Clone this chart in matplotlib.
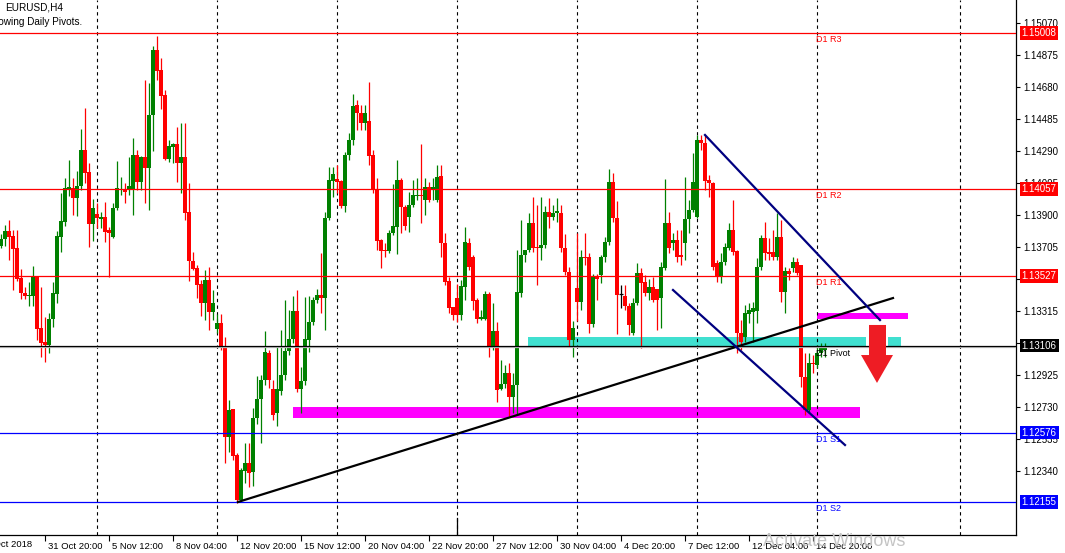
#!/usr/bin/env python

# EURUSD H4 chart with daily pivots, trendlines and zones
# Dependencies: numpy, matplotlib

import numpy as np
import matplotlib
matplotlib.use('Agg')
import matplotlib.pyplot as plt
import matplotlib.transforms as mtrans
from matplotlib.patches import Rectangle, Polygon

plt.rcParams['font.family'] = ['Liberation Sans', 'DejaVu Sans']

# Candles (one H4 bar per index, oldest first)
opens = [
    1.13711, 1.13754, 1.13803, 1.13772, 1.13699, 1.13517, 1.13426, 1.13407, 1.13407, 1.13523,
    1.13212, 1.13127, 1.13109, 1.13267, 1.13420, 1.13766, 1.13858, 1.14059, 1.14065, 1.14004,
    1.14077, 1.14297, 1.14163, 1.13846, 1.13907, 1.13876, 1.13888, 1.13809, 1.13766, 1.13943,
    1.14053, 1.14053, 1.14053, 1.14053, 1.14267, 1.14102, 1.14254, 1.14187, 1.14510, 1.14906,
    1.14784, 1.14632, 1.14242, 1.14314, 1.14333, 1.14218, 1.14254, 1.13919, 1.13621, 1.13578,
    1.13481, 1.13365, 1.13505, 1.13310, 1.13206, 1.13243, 1.13090, 1.12548, 1.12719, 1.12440,
    1.12165, 1.12342, 1.12391, 1.12336, 1.12664, 1.12780, 1.12896, 1.13061, 1.12841, 1.12695,
    1.12829, 1.12927, 1.13073, 1.13145, 1.13316, 1.12841, 1.12890, 1.13139, 1.13249, 1.13383,
    1.13414, 1.13395, 1.13882, 1.14108, 1.14120, 1.14108, 1.13955, 1.14267, 1.14357, 1.14571,
    1.14522, 1.14461, 1.14473, 1.14267, 1.14059, 1.13748, 1.13688, 1.13682, 1.13791, 1.13827,
    1.14114, 1.13949, 1.13888, 1.13962, 1.14016, 1.14023, 1.13992, 1.14071, 1.14053, 1.13992,
    1.14138, 1.13730, 1.13499, 1.13340, 1.13395, 1.13292, 1.13462, 1.13730, 1.13645, 1.13383,
    1.13267, 1.13267, 1.13420, 1.13090, 1.13194, 1.12841, 1.12872, 1.12939, 1.12792, 1.12866,
    1.13426, 1.13658, 1.13688, 1.13852, 1.13705, 1.13699, 1.13717, 1.13919, 1.13888, 1.13913,
    1.13913, 1.13699, 1.13554, 1.13139, 1.13456, 1.13371, 1.13645, 1.13645, 1.13237, 1.13523,
    1.13536, 1.13645, 1.13736, 1.14102, 1.13882, 1.13420, 1.13407, 1.13346, 1.13182, 1.13365,
    1.13548, 1.13493, 1.13426, 1.13462, 1.13450, 1.13395, 1.13578, 1.13852, 1.13730, 1.13748,
    1.13658, 1.13730, 1.13876, 1.13931, 1.13888, 1.14357, 1.14339, 1.14114, 1.14096, 1.13609,
    1.13529, 1.13615, 1.13699, 1.13809, 1.13682, 1.13182, 1.13157, 1.13298, 1.13310, 1.13316,
    1.13584, 1.13760, 1.13676, 1.13676, 1.13645, 1.13766, 1.13432, 1.13560, 1.13578, 1.13615,
    1.13597, 1.12914, 1.12713, 1.13000, 1.12988, 1.13061, 1.13079]

highs = [
    1.13785, 1.13840, 1.13870, 1.13809, 1.13809, 1.13572, 1.13462, 1.13493, 1.13590, 1.13529,
    1.13462, 1.13279, 1.13304, 1.13493, 1.13803, 1.14035, 1.14126, 1.14236, 1.14126, 1.14169,
    1.14424, 1.14552, 1.14218, 1.13998, 1.13974, 1.13919, 1.13980, 1.13827, 1.13974, 1.14230,
    1.14132, 1.14096, 1.14254, 1.14369, 1.14297, 1.14260, 1.14723, 1.14705, 1.14929, 1.14990,
    1.14857, 1.14662, 1.14357, 1.14339, 1.14436, 1.14461, 1.14461, 1.14096, 1.13676, 1.13597,
    1.13505, 1.13566, 1.13584, 1.13444, 1.13298, 1.13298, 1.13157, 1.12774, 1.12719, 1.12452,
    1.12360, 1.12512, 1.12512, 1.12725, 1.12920, 1.12927, 1.13194, 1.13079, 1.12896, 1.13102,
    1.13200, 1.13383, 1.13322, 1.13407, 1.13444, 1.12975, 1.13401, 1.13407, 1.13401, 1.13450,
    1.13670, 1.13919, 1.14193, 1.14193, 1.14206, 1.14114, 1.14285, 1.14400, 1.14638, 1.14601,
    1.14571, 1.14571, 1.14711, 1.14297, 1.14126, 1.13754, 1.13730, 1.13809, 1.14090, 1.14236,
    1.14126, 1.13962, 1.14041, 1.14114, 1.14126, 1.14333, 1.14126, 1.14102, 1.14126, 1.14206,
    1.14206, 1.13791, 1.13523, 1.13340, 1.13481, 1.13505, 1.13827, 1.13760, 1.13658, 1.13395,
    1.13322, 1.13438, 1.13432, 1.13365, 1.13249, 1.13018, 1.12988, 1.13000, 1.12939, 1.13688,
    1.13870, 1.13688, 1.13913, 1.14010, 1.13962, 1.14010, 1.13955, 1.14004, 1.13962, 1.14004,
    1.13962, 1.13785, 1.13584, 1.13255, 1.13791, 1.13688, 1.13791, 1.13670, 1.13541, 1.13541,
    1.13658, 1.13766, 1.14181, 1.14157, 1.13986, 1.13475, 1.13475, 1.13365, 1.13395, 1.13609,
    1.13578, 1.13536, 1.13511, 1.13523, 1.13450, 1.13615, 1.14120, 1.13919, 1.13791, 1.13809,
    1.13809, 1.14132, 1.13992, 1.14279, 1.14388, 1.14388, 1.14388, 1.14145, 1.14102, 1.13627,
    1.13670, 1.13730, 1.13852, 1.13992, 1.13688, 1.13261, 1.13352, 1.13365, 1.13371, 1.13639,
    1.13779, 1.13858, 1.13760, 1.13809, 1.13913, 1.13870, 1.13584, 1.13578, 1.13645, 1.13639,
    1.13597, 1.13061, 1.13061, 1.13049, 1.13109, 1.13121, 1.13121]

lows = [
    1.13699, 1.13711, 1.13627, 1.13444, 1.13499, 1.13389, 1.13389, 1.13346, 1.13346, 1.13139,
    1.13036, 1.13006, 1.13061, 1.13218, 1.13365, 1.13676, 1.13833, 1.14016, 1.13901, 1.13894,
    1.14053, 1.14096, 1.13705, 1.13742, 1.13821, 1.13821, 1.13736, 1.13523, 1.13760, 1.13931,
    1.14023, 1.13974, 1.14023, 1.13901, 1.14053, 1.14053, 1.13974, 1.13931, 1.14291, 1.14723,
    1.14546, 1.14236, 1.14224, 1.14218, 1.14102, 1.14035, 1.13870, 1.13499, 1.13566, 1.13395,
    1.13285, 1.13261, 1.13200, 1.13261, 1.13182, 1.13079, 1.12391, 1.12458, 1.12409, 1.12147,
    1.12159, 1.12269, 1.12244, 1.12250, 1.12628, 1.12512, 1.12866, 1.12847, 1.12652, 1.12615,
    1.12805, 1.12896, 1.13049, 1.13121, 1.12823, 1.12695, 1.12866, 1.13067, 1.13231, 1.13365,
    1.13304, 1.13200, 1.13870, 1.14010, 1.14035, 1.13943, 1.13919, 1.14236, 1.14327, 1.14418,
    1.14418, 1.14418, 1.14206, 1.14035, 1.13688, 1.13578, 1.13645, 1.13670, 1.13779, 1.13664,
    1.13791, 1.13809, 1.13797, 1.13949, 1.13992, 1.13852, 1.13901, 1.13980, 1.13992, 1.13980,
    1.13645, 1.13475, 1.13304, 1.13261, 1.13249, 1.13261, 1.13383, 1.13566, 1.13322, 1.13243,
    1.13261, 1.13261, 1.13036, 1.13079, 1.12762, 1.12835, 1.12847, 1.12676, 1.12695, 1.12683,
    1.13401, 1.13615, 1.13676, 1.13676, 1.13475, 1.13627, 1.13699, 1.13821, 1.13870, 1.13858,
    1.13676, 1.13536, 1.13097, 1.13036, 1.13255, 1.13322, 1.13597, 1.13182, 1.13218, 1.13383,
    1.13487, 1.13615, 1.13718, 1.13858, 1.13176, 1.13334, 1.13322, 1.13170, 1.13170, 1.13352,
    1.13091, 1.13407, 1.13383, 1.13371, 1.13200, 1.13212, 1.13566, 1.13670, 1.13688, 1.13615,
    1.13597, 1.13627, 1.13791, 1.13919, 1.13882, 1.14297, 1.14053, 1.14010, 1.13566, 1.13493,
    1.13487, 1.13597, 1.13688, 1.13658, 1.13061, 1.13079, 1.13127, 1.13243, 1.13127, 1.13243,
    1.13566, 1.13627, 1.13627, 1.13627, 1.13627, 1.13371, 1.13304, 1.13505, 1.13554, 1.13536,
    1.12853, 1.12683, 1.12695, 1.12939, 1.12970, 1.13036, 1.13036]

closes = [
    1.13754, 1.13803, 1.13766, 1.13693, 1.13511, 1.13426, 1.13407, 1.13414, 1.13523, 1.13206,
    1.13121, 1.13109, 1.13267, 1.13426, 1.13772, 1.13864, 1.14065, 1.14071, 1.14004, 1.14077,
    1.14297, 1.14157, 1.13846, 1.13943, 1.13882, 1.13888, 1.13797, 1.13791, 1.13943, 1.14065,
    1.14059, 1.14041, 1.14077, 1.14267, 1.14102, 1.14254, 1.14187, 1.14510, 1.14906, 1.14778,
    1.14625, 1.14242, 1.14320, 1.14333, 1.14218, 1.14254, 1.13913, 1.13621, 1.13572, 1.13475,
    1.13365, 1.13505, 1.13310, 1.13365, 1.13243, 1.13090, 1.12548, 1.12713, 1.12433, 1.12165,
    1.12348, 1.12391, 1.12330, 1.12664, 1.12780, 1.12896, 1.13067, 1.12896, 1.12683, 1.12841,
    1.12927, 1.13073, 1.13145, 1.13316, 1.12841, 1.12890, 1.13145, 1.13249, 1.13383, 1.13414,
    1.13395, 1.13882, 1.14114, 1.14151, 1.14102, 1.13955, 1.14267, 1.14357, 1.14564, 1.14522,
    1.14461, 1.14522, 1.14260, 1.14059, 1.13742, 1.13682, 1.13682, 1.13791, 1.13833, 1.14114,
    1.13949, 1.13833, 1.13962, 1.14023, 1.14023, 1.14016, 1.14071, 1.13992, 1.14071, 1.14132,
    1.13730, 1.13493, 1.13334, 1.13292, 1.13292, 1.13468, 1.13736, 1.13584, 1.13377, 1.13267,
    1.13279, 1.13420, 1.13090, 1.13194, 1.12835, 1.12872, 1.12939, 1.12792, 1.12866, 1.13432,
    1.13658, 1.13688, 1.13852, 1.13699, 1.13699, 1.13717, 1.13919, 1.13888, 1.13913, 1.13925,
    1.13699, 1.13554, 1.13139, 1.13212, 1.13371, 1.13645, 1.13639, 1.13237, 1.13523, 1.13511,
    1.13645, 1.13736, 1.14102, 1.13882, 1.13414, 1.13420, 1.13346, 1.13231, 1.13365, 1.13548,
    1.13487, 1.13426, 1.13462, 1.13383, 1.13383, 1.13584, 1.13852, 1.13699, 1.13748, 1.13645,
    1.13645, 1.13876, 1.13931, 1.14102, 1.14357, 1.14339, 1.14108, 1.14096, 1.13584, 1.13529,
    1.13615, 1.13705, 1.13809, 1.13676, 1.13182, 1.13127, 1.13304, 1.13322, 1.13334, 1.13584,
    1.13760, 1.13670, 1.13664, 1.13645, 1.13766, 1.13432, 1.13560, 1.13541, 1.13615, 1.13548,
    1.12914, 1.12713, 1.13000, 1.12994, 1.13061, 1.13090, 1.13106]

# Daily pivot levels
pivotNames  = ['D1 R3', 'D1 R2', 'D1 R1', 'D1 Pivot', 'D1 S1', 'D1 S2']
pivotLevels = [1.15008, 1.14057, 1.13527, 1.13096, 1.12576, 1.12155]
pivotColors = ['red', 'red', 'red', 'black', 'blue', 'blue']
bidPrice = 1.13106

# Axis ticks
priceTicks = [1.15070, 1.14875, 1.14680, 1.14485, 1.14290, 1.14095, 1.13900,
              1.13705, 1.13510, 1.13315, 1.13120, 1.12925, 1.12730, 1.12535, 1.12340]
dateTickPos = [-5, 11, 27, 43, 59, 75, 91, 107, 123, 139, 155, 171, 187, 203]
dateLabels = ['29 Oct 2018', '31 Oct 20:00', '5 Nov 12:00', '8 Nov 04:00', '12 Nov 20:00',
              '15 Nov 12:00', '20 Nov 04:00', '22 Nov 20:00', '27 Nov 12:00', '30 Nov 04:00',
              '4 Dec 20:00', '7 Dec 12:00', '12 Dec 04:00', '14 Dec 20:00']
weekSeparators = [24, 54, 84, 114, 144, 174, 204, 239.75]
solidMarkX = 114
solidMarkY = (1.11952, 1.12055)

# Drawn objects (bar index, price)
blackTrendX = [59.25, 223.0]
blackTrendY = [1.12153, 1.13395]
navyUpperX = [176.0, 219.75]
navyUpperY = [1.14388, 1.13261]
navyLowerX = [168.0, 211.0]
navyLowerY = [1.13444, 1.12500]

cyanZonesX = [(131.75, 216.25), (221.75, 225.0)]
cyanZoneY = (1.13097, 1.13158)
magentaLowX = (73.0, 214.75)
magentaLowY = (1.12664, 1.12731)
magentaHighX = (204.0, 226.75)
magentaHighY = (1.13267, 1.13304)

arrowShaftX = (217.0, 221.25)
arrowShaftY = (1.13048, 1.13231)
arrowHeadX = (215.0, 219.0, 223.0)
arrowTipY = 1.12878

XMIN, XMAX = -0.25, 253.75
YMIN, YMAX = 1.11952, 1.15210
W, H = 1065, 553


# Open figure
fig = plt.figure(figsize=(W/100, H/100), dpi=100)
ax = fig.add_axes([0, 18/H, 1016/W, 535/H])

o = np.array(opens); h = np.array(highs); l = np.array(lows); c = np.array(closes)
idx = np.arange(len(c))
cols = np.where(c > o, '#008000', np.where(c < o, '#ff0000', 'black'))

# Zones (behind candles)
for x0, x1 in cyanZonesX:
    ax.add_patch(Rectangle((x0, cyanZoneY[0]), x1-x0, cyanZoneY[1]-cyanZoneY[0],
                           facecolor='#40e0d0', edgecolor='none', zorder=1))
ax.add_patch(Rectangle((magentaLowX[0], magentaLowY[0]), magentaLowX[1]-magentaLowX[0],
                       magentaLowY[1]-magentaLowY[0], facecolor='#ff00ff', edgecolor='none', zorder=1))
ax.add_patch(Rectangle((magentaHighX[0], magentaHighY[0]), magentaHighX[1]-magentaHighX[0],
                       magentaHighY[1]-magentaHighY[0], facecolor='#ff00ff', edgecolor='none', zorder=1))

# Week separators
for k in weekSeparators:
    ax.axvline(k, color='black', lw=0.8, ls=(0, (3, 3)), zorder=1.5)
ax.plot([solidMarkX, solidMarkX], solidMarkY, color='black', lw=0.9, zorder=1.6)

# Candles
ax.vlines(idx, l, h, colors=cols, lw=0.9, zorder=3)
ax.bar(idx, np.abs(c-o), bottom=np.minimum(o, c), width=0.78, color=cols, linewidth=0, zorder=3)
flat = c == o
ax.hlines(o[flat], idx[flat]-0.45, idx[flat]+0.45, colors='black', lw=0.9, zorder=3)

# Pivot lines
for lev, col, name in zip(pivotLevels, pivotColors, pivotNames):
    lc = 'silver' if name == 'D1 Pivot' else col
    ax.axhline(lev, color=lc, lw=0.9, zorder=4)
    ax.annotate(name, (204, lev), xytext=(-1, -1.5), textcoords='offset points',
                ha='left', va='top', fontsize=6.5, color=col, zorder=6)
ax.axhline(bidPrice, color='black', lw=0.9, zorder=4)

# Trendlines
ax.plot(blackTrendX, blackTrendY, color='black', lw=1.6, zorder=5)
ax.plot(navyUpperX, navyUpperY, color='#000080', lw=1.6, zorder=5)
ax.plot(navyLowerX, navyLowerY, color='#000080', lw=1.6, zorder=5)

# Red arrow
arrow = [(arrowShaftX[0], arrowShaftY[1]), (arrowShaftX[1], arrowShaftY[1]),
         (arrowShaftX[1], arrowShaftY[0]), (arrowHeadX[2], arrowShaftY[0]),
         (arrowHeadX[1], arrowTipY), (arrowHeadX[0], arrowShaftY[0]),
         (arrowShaftX[0], arrowShaftY[0])]
ax.add_patch(Polygon(arrow, closed=True, facecolor='#ee1c24', edgecolor='none', zorder=6))

# Arrange axes
for s in ['top', 'left']:
    ax.spines[s].set_visible(False)
for s in ['right', 'bottom']:
    ax.spines[s].set_linewidth(0.9)
ax.yaxis.tick_right()
ax.set_yticks(priceTicks, ['%.5f' % p for p in priceTicks])
ax.tick_params(axis='y', length=3, width=0.8, pad=2, labelsize=7)
ax.set_xticks(dateTickPos[1:], dateLabels[1:], ha='left')
ax.tick_params(axis='x', length=4, width=0.8, pad=1, labelsize=6.8)
shift = mtrans.ScaledTranslation(2/72, 0, fig.dpi_scale_trans)
for lbl in ax.get_xticklabels():
    lbl.set_transform(lbl.get_transform() + shift)
ax.set_xlim(XMIN, XMAX)
ax.set_ylim(YMIN, YMAX)

# First date label sits left of the view and is cut by the window edge
ax.annotate(dateLabels[0], (dateTickPos[0], 0), xycoords=('data', 'axes fraction'),
            xytext=(-1, -3.9), textcoords='offset points', ha='left', va='top',
            fontsize=6.8, annotation_clip=False)

# Price boxes on the right axis
boxTrans = mtrans.blended_transform_factory(ax.transAxes, ax.transData) + \
    mtrans.ScaledTranslation(4/72, 0, fig.dpi_scale_trans)
boxLevels = [pivotLevels[0], pivotLevels[1], pivotLevels[2], bidPrice, pivotLevels[4], pivotLevels[5]]
boxColors = ['red', 'red', 'red', 'black', 'blue', 'blue']
for lev, col in zip(boxLevels, boxColors):
    ax.text(1.0, lev, '%.5f' % lev, transform=boxTrans, ha='left', va='center',
            fontsize=7, color='white', zorder=7, clip_on=False,
            bbox=dict(boxstyle='square,pad=0.2', facecolor=col, edgecolor='none'))

# Header texts
fig.text(5/W, 1-8/H, 'EURUSD,H4', fontsize=7.2, va='center', ha='left')
fig.text(-14/W, 1-22/H, 'Showing Daily Pivots.', fontsize=7.2, va='center', ha='left')

# Watermark
fig.text(763/W, 1-533/H, 'Activate Windows', fontsize=13, color='#c4c4c4',
         va='top', ha='left')

fig.savefig('out.png', dpi=100)
